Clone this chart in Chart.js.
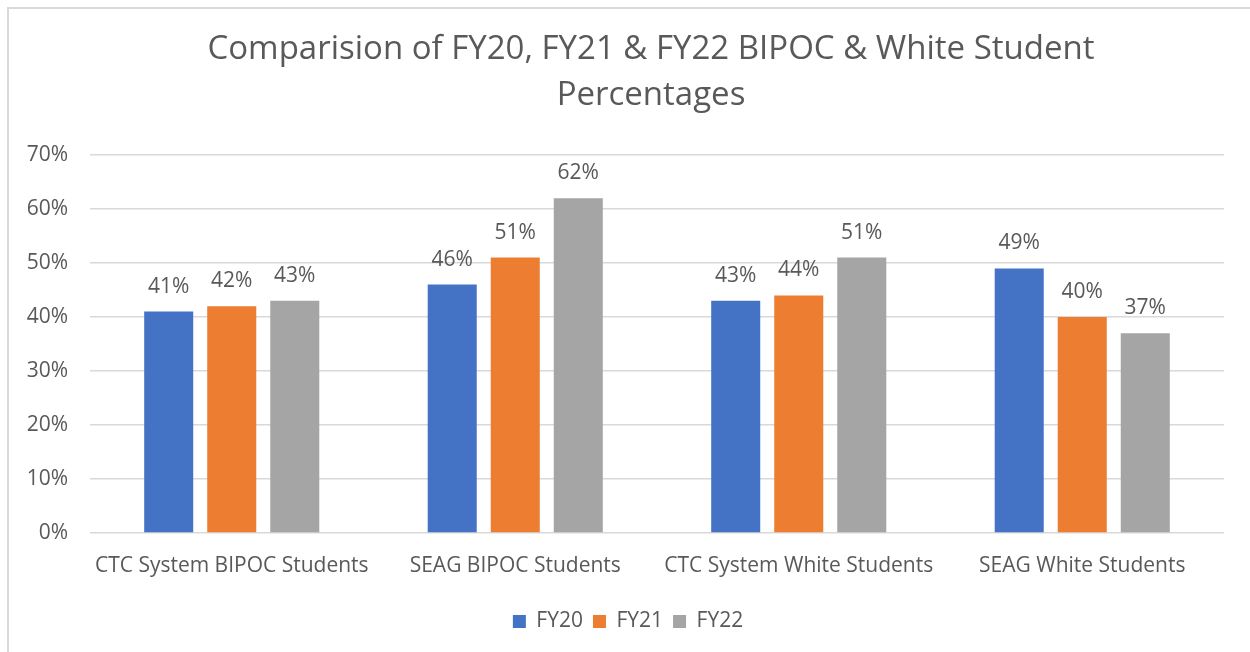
<!DOCTYPE html>
<html>
<head>
<meta charset="utf-8">
<script src="https://cdn.jsdelivr.net/npm/chart.js@4/dist/chart.umd.min.js"></script>
<style>
  html, body { margin: 0; padding: 0; background: #fff; }
  #wrap { position: relative; width: 1250px; height: 652px; overflow: hidden; }
  #frame { position: absolute; left: 7px; top: 7px; width: 1300px; height: 700px;
           border-left: 2px solid #d9d9d9; border-top: 2px solid #d9d9d9; }
  canvas { position: absolute; left: 0; top: 0; }
</style>
</head>
<body>
<div id="wrap">
  <div id="frame"></div>
  <canvas id="c" width="1250" height="652"></canvas>
</div>
<script>
const categories = ["CTC System BIPOC Students", "SEAG BIPOC Students", "CTC System White Students", "SEAG White Students"];
const seriesNames = ["FY20", "FY21", "FY22"];
const fy20 = [41, 46, 43, 49];
const fy21 = [42, 51, 44, 40];
const fy22 = [43, 62, 51, 37];
const yTicks = [0, 10, 20, 30, 40, 50, 60, 70];
const titleLines = ["Comparision of FY20, FY21 & FY22 BIPOC & White Student", "Percentages"];

const colors = ["#4472C4", "#ED7D31", "#A5A5A5"];
const FONT = "'Open Sans', 'Noto Sans', sans-serif";
const TXT = "#595959";

const dataLabels = {
  id: 'dataLabels',
  afterDatasetsDraw(chart) {
    const ctx = chart.ctx;
    ctx.save();
    ctx.font = "21px " + FONT;
    ctx.fillStyle = TXT;
    ctx.textAlign = 'center';
    ctx.textBaseline = 'middle';
    chart.data.datasets.forEach((ds, i) => {
      const meta = chart.getDatasetMeta(i);
      meta.data.forEach((el, j) => {
        ctx.fillText(ds.data[j] + '%', el.x, el.y - 25);
      });
    });
    ctx.restore();
  }
};

const shiftBlocks = {
  id: 'shiftBlocks',
  afterLayout(chart) {
    if (chart.titleBlock) { chart.titleBlock.left += 34; chart.titleBlock.right += 34; }
    if (chart.legend) { chart.legend.left += 11; chart.legend.right += 11; }
  }
};

new Chart(document.getElementById('c'), {
  type: 'bar',
  data: {
    labels: categories,
    datasets: [
      { label: seriesNames[0], data: fy20, backgroundColor: colors[0] },
      { label: seriesNames[1], data: fy21, backgroundColor: colors[1] },
      { label: seriesNames[2], data: fy22, backgroundColor: colors[2] }
    ]
  },
  options: {
    responsive: false,
    animation: false,
    devicePixelRatio: 1,
    layout: { padding: { left: 10, right: 26, top: 0, bottom: 10 } },
    datasets: { bar: { categoryPercentage: 0.667, barPercentage: 0.778 } },
    plugins: {
      title: {
        display: true,
        text: titleLines,
        color: TXT,
        font: { family: FONT, size: 33, weight: 'normal', lineHeight: 1.394 },
        padding: { top: 27, bottom: 36 }
      },
      legend: {
        position: 'bottom',
        labels: {
          color: TXT,
          font: { family: FONT, size: 21 },
          boxWidth: 13, boxHeight: 13,
          padding: 10
        }
      },
      tooltip: { enabled: false }
    },
    scales: {
      x: {
        afterFit(scale) { scale.height = 68; },
        grid: { display: false, drawTicks: false },
        border: { display: false },
        ticks: { color: TXT, font: { family: FONT, size: 21 }, padding: 20, maxRotation: 0, autoSkip: false }
      },
      y: {
        min: 0, max: 70,
        afterFit(scale) { scale.width = 80; },
        afterBuildTicks(scale) { scale.ticks = yTicks.map(v => ({ value: v })); },
        grid: { color: '#d9d9d9', lineWidth: 1.5, drawTicks: false },
        border: { display: false },
        ticks: { color: TXT, font: { family: FONT, size: 21 }, padding: 22, callback: v => v + '%' }
      }
    }
  },
  plugins: [dataLabels, shiftBlocks]
});
</script>
</body>
</html>
